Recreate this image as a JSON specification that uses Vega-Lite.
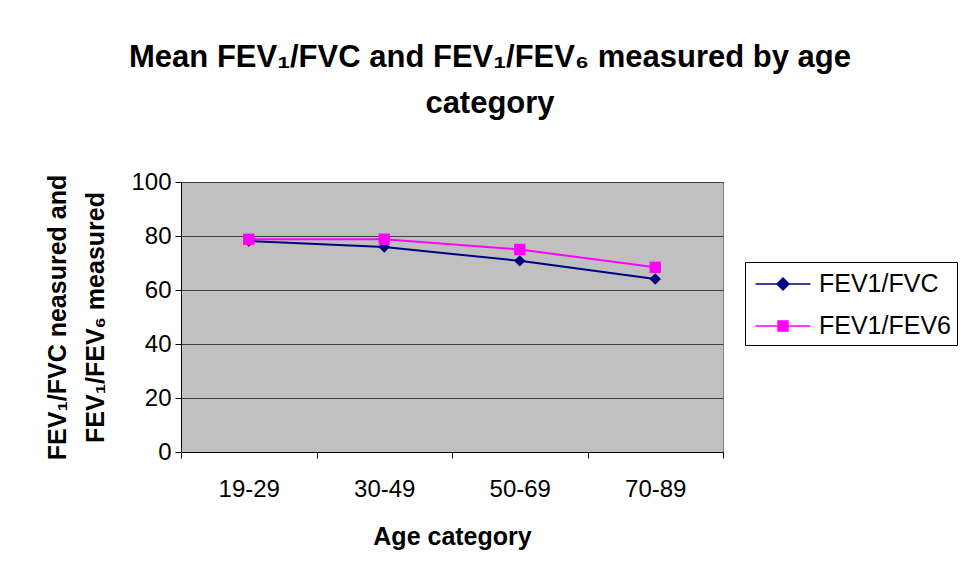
{
  "$schema": "https://vega.github.io/schema/vega-lite/v6.json",
  "width": 542,
  "height": 270,
  "autosize": {"type": "none"},
  "padding": {"left": 181, "top": 182, "right": 240, "bottom": 124},
  "background": "#FFFFFF",
  "title": {
    "text": ["Mean FEV₁/FVC and FEV₁/FEV₆ measured by age", "category"],
    "font": "Liberation Sans",
    "fontSize": 31,
    "fontWeight": "bold",
    "color": "#000000",
    "anchor": "middle",
    "dx": 38,
    "offset": 50,
    "lineHeight": 46
  },
  "data": {
    "values": [
      {"age": "19-29", "series": "FEV1/FVC", "value": 78.1},
      {"age": "30-49", "series": "FEV1/FVC", "value": 75.9},
      {"age": "50-69", "series": "FEV1/FVC", "value": 70.8},
      {"age": "70-89", "series": "FEV1/FVC", "value": 64.1},
      {"age": "19-29", "series": "FEV1/FEV6", "value": 78.8},
      {"age": "30-49", "series": "FEV1/FEV6", "value": 78.8},
      {"age": "50-69", "series": "FEV1/FEV6", "value": 75.0},
      {"age": "70-89", "series": "FEV1/FEV6", "value": 68.4}
    ]
  },
  "encoding": {
    "x": {
      "field": "age",
      "type": "nominal",
      "scale": {"type": "band", "paddingInner": 0, "paddingOuter": 0},
      "axis": {
        "title": "Age category",
        "titleFont": "Liberation Sans",
        "titleFontSize": 25,
        "titleFontWeight": "bold",
        "titleColor": "#000000",
        "titlePadding": 23,
        "labelFont": "Liberation Sans",
        "labelFontSize": 24,
        "labelColor": "#000000",
        "labelAngle": 0,
        "labelPadding": 19,
        "tickBand": "extent",
        "tickSize": 6,
        "tickColor": "#000000",
        "domainColor": "#000000",
        "grid": false
      }
    },
    "y": {
      "field": "value",
      "type": "quantitative",
      "scale": {"domain": [0, 100], "nice": false},
      "axis": {
        "title": ["FEV₁/FVC neasured and", "FEV₁/FEV₆ measured"],
        "titleFont": "Liberation Sans",
        "titleFontSize": 25,
        "titleFontWeight": "bold",
        "titleColor": "#000000",
        "titleLineHeight": 38,
        "titlePadding": 22,
        "values": [0, 20, 40, 60, 80, 100],
        "labelFont": "Liberation Sans",
        "labelFontSize": 24,
        "labelColor": "#000000",
        "labelPadding": 4,
        "tickSize": 6,
        "tickColor": "#000000",
        "domainColor": "#000000",
        "grid": true,
        "gridColor": "#404040",
        "gridWidth": 1
      }
    },
    "color": {
      "field": "series",
      "type": "nominal",
      "sort": ["FEV1/FVC", "FEV1/FEV6"],
      "scale": {"domain": ["FEV1/FVC", "FEV1/FEV6"], "range": ["#000080", "#FF00FF"]},
      "legend": {
        "title": null,
        "orient": "none",
        "legendX": 564,
        "legendY": 80,
        "direction": "vertical",
        "strokeColor": "#000000",
        "fillColor": "#FFFFFF",
        "padding": 6,
        "rowPadding": 13,
        "labelFont": "Liberation Sans",
        "labelFontSize": 25,
        "labelColor": "#000000",
        "labelOffset": 20,
        "symbolOffset": 16,
        "symbolSize": 900,
        "symbolStrokeWidth": 1.5,
        "encode": {
          "symbols": {
            "update": {
              "shape": {"signal": "datum.value === 'FEV1/FVC' ? 'M-1.83,0H1.83M0,-0.4L0.4,0L0,0.4L-0.4,0Z' : 'M-1.83,0H1.83M-0.33,-0.33H0.33V0.33H-0.33Z'"},
              "fill": {"signal": "datum.value === 'FEV1/FVC' ? '#000080' : '#FF00FF'"},
              "stroke": {"signal": "datum.value === 'FEV1/FVC' ? '#000080' : '#FF00FF'"},
              "strokeWidth": {"value": 1.5},
              "opacity": {"value": 1}
            }
          }
        }
      }
    }
  },
  "layer": [
    {"mark": {"type": "line", "strokeWidth": 2}},
    {
      "mark": {"type": "point", "filled": true, "opacity": 1},
      "encoding": {
        "shape": {
          "condition": {"test": "datum.series === 'FEV1/FVC'", "value": "diamond"},
          "value": "square"
        },
        "size": {"value": 130}
      }
    }
  ],
  "config": {
    "view": {"fill": "#C0C0C0", "stroke": "#808080", "strokeWidth": 1}
  }
}
